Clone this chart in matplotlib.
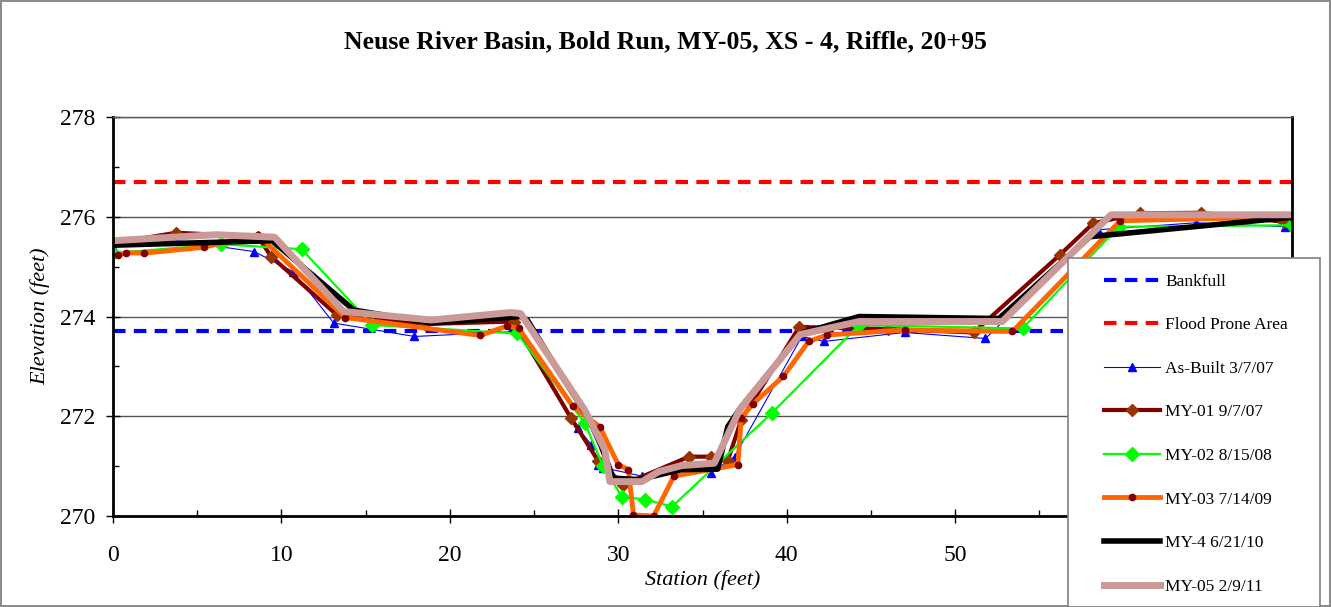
import matplotlib
matplotlib.use('Agg')
import matplotlib.pyplot as plt
from matplotlib.patches import Rectangle
from matplotlib.ticker import MultipleLocator

plt.rcParams['font.family'] = ['Liberation Serif', 'DejaVu Serif']

# Datos
bankfull = 273.7
flood_prone = 276.7

asbuilt_x = [0, 3.3, 8.4, 10.7, 13.1, 17.9, 24.0, 27.6, 28.4, 28.8, 29.1, 31.4, 34.5, 35.5,
             36.9, 40.9, 42.2, 47.0, 51.8, 58.5, 64.3, 69.6]
asbuilt_y = [275.4, 275.55, 275.3, 274.9, 273.87, 273.6, 273.7, 271.76, 271.43, 271.03, 270.97,
             270.8, 271.0, 270.87, 271.19, 273.6, 273.5, 273.68, 273.56, 275.74, 275.88, 275.8]

my01_x = [0, 3.75, 8.6, 9.4, 13.3, 18.5, 23.8, 27.2, 28.8, 30.3, 34.2, 35.5, 36.5, 37.3,
          40.75, 46.0, 51.1, 56.2, 58.2, 61.0, 64.6, 69.5]
my01_y = [275.47, 275.68, 275.6, 275.2, 274.03, 273.85, 273.9, 271.96, 271.11, 270.63, 271.19,
          271.19, 271.11, 271.93, 273.79, 273.75, 273.68, 275.23, 275.87, 276.07, 276.08, 275.9]

my02_x = [0, 6.4, 11.2, 15.4, 24.0, 28.0, 29.1, 30.2, 31.6, 33.2, 39.1, 44.3, 54.0, 59.7, 70.0]
my02_y = [275.27, 275.45, 275.35, 273.83, 273.66, 271.87, 271.0, 270.39, 270.33, 270.19,
          272.06, 273.83, 273.76, 275.8, 275.83]

my03_x = [0.3, 0.8, 1.85, 5.4, 8.6, 13.8, 21.8, 23.4, 24.1, 27.3, 28.9, 30.0, 30.6, 30.9,
          32.1, 33.3, 37.1, 37.3, 38.0, 39.8, 41.3, 42.4, 47.0, 53.4, 59.8, 70.0]
my03_y = [275.23, 275.28, 275.27, 275.39, 275.64, 273.98, 273.62, 273.81, 273.76, 272.2,
          271.79, 271.03, 270.93, 270.02, 270.0, 270.8, 271.03, 271.97, 272.25, 272.8, 273.5,
          273.63, 273.73, 273.7, 275.92, 276.0]

my4_x = [0, 9.45, 14.3, 18.9, 24.2, 24.6, 26.4, 28.2, 29.0, 29.7, 31.2, 33.75, 35.9, 36.5,
         37.3, 40.9, 44.3, 52.6, 58.0, 70.0]
my4_y = [275.43, 275.52, 274.13, 273.87, 274.0, 273.93, 272.93, 271.99, 271.39, 270.76,
         270.73, 270.93, 270.94, 271.79, 272.19, 273.67, 274.0, 273.96, 275.6, 275.99]

my05_x = [0, 6.1, 9.6, 13.7, 18.9, 23.6, 24.2, 28.0, 29.2, 29.5, 31.4, 32.4, 33.75, 35.7,
          37.2, 40.8, 44.3, 52.8, 59.25, 70.0]
my05_y = [275.52, 275.64, 275.59, 274.1, 273.93, 274.08, 274.06, 272.13, 271.33, 270.69,
          270.69, 270.89, 271.01, 271.06, 272.13, 273.64, 273.9, 273.9, 276.04, 276.04]

fig = plt.figure(figsize=(13.31, 6.07), dpi=100)
fig.patch.set_edgecolor('#8c8c8c')
fig.patch.set_linewidth(1.5)
ax = fig.add_axes([0.0849, 0.1499, 0.9707 - 0.0849, 0.8072 - 0.1499])

ax.axhline(bankfull, color='#0000ff', lw=3, ls=(0, (3, 2)), label='Bankfull')
ax.axhline(flood_prone, color='#ff0000', lw=3, ls=(0, (3, 2)), label='Flood Prone Area')
ax.plot(asbuilt_x, asbuilt_y, color='#0000ff', lw=0.8, marker='^', ms=6,
        label='As-Built 3/7/07')
ax.plot(my01_x, my01_y, color='#800000', lw=3, marker='D', ms=6, mfc='#993300', mec='#993300',
        label='MY-01 9/7/07')
ax.plot(my02_x, my02_y, color='#00ff00', lw=1.6, marker='D', ms=7,
        label='MY-02 8/15/08')
ax.plot(my03_x, my03_y, color='#ff6600', lw=3.5, marker='o', ms=4.5, mfc='#800000', mec='#800000',
        label='MY-03 7/14/09')
ax.plot(my4_x, my4_y, color='black', lw=4, label='MY-4 6/21/10')
ax.plot(my05_x, my05_y, color='#cc9999', lw=5, label='MY-05 2/9/11')

ax.set_xlim(0, 70)
ax.set_ylim(270, 278)
ax.xaxis.set_major_locator(MultipleLocator(10))
ax.xaxis.set_minor_locator(MultipleLocator(5))
ax.yaxis.set_major_locator(MultipleLocator(2))
ax.yaxis.set_minor_locator(MultipleLocator(1))
ax.grid(True, axis='y', which='major', color='#555555', lw=1)
ax.tick_params(which='major', direction='inout', length=10, width=1, labelsize=17, pad=8)
ax.tick_params(which='minor', direction='in', length=4, width=1)
ax.tick_params(axis='x', pad=16)
for s in ['left', 'bottom', 'right']:
    ax.spines[s].set_linewidth(2)
    ax.spines[s].set_color('black')
ax.spines['top'].set_color('#555555')
ax.spines['top'].set_linewidth(1)

ax.set_xlabel('Station (feet)', fontsize=16, style='italic', labelpad=3)
ax.set_ylabel('Elevation (feet)', fontsize=16, style='italic', labelpad=7)
fig.text(0.5, 1 - 42 / 607, 'Neuse River Basin, Bold Run, MY-05, XS - 4, Riffle, 20+95',
         fontsize=18.5, fontweight='bold', ha='center', va='center')

# Caja de la leyenda
box = Rectangle((1068 / 1331, 0.0), 252 / 1331, 1 - 258 / 607, transform=fig.transFigure,
                facecolor='white', edgecolor='#808080', lw=1.2, zorder=5)
fig.patches.append(box)
handles, labels = ax.get_legend_handles_labels()
leg = fig.legend(handles, labels, loc='upper left', bbox_to_anchor=(1101 / 1331, 1 - 270 / 607),
                 frameon=False, fontsize=12.5, handlelength=3.2, handletextpad=0.3,
                 labelspacing=1.58, borderpad=0.2, borderaxespad=0)
leg.set_zorder(6)

plt.savefig('out.png', dpi=100)
